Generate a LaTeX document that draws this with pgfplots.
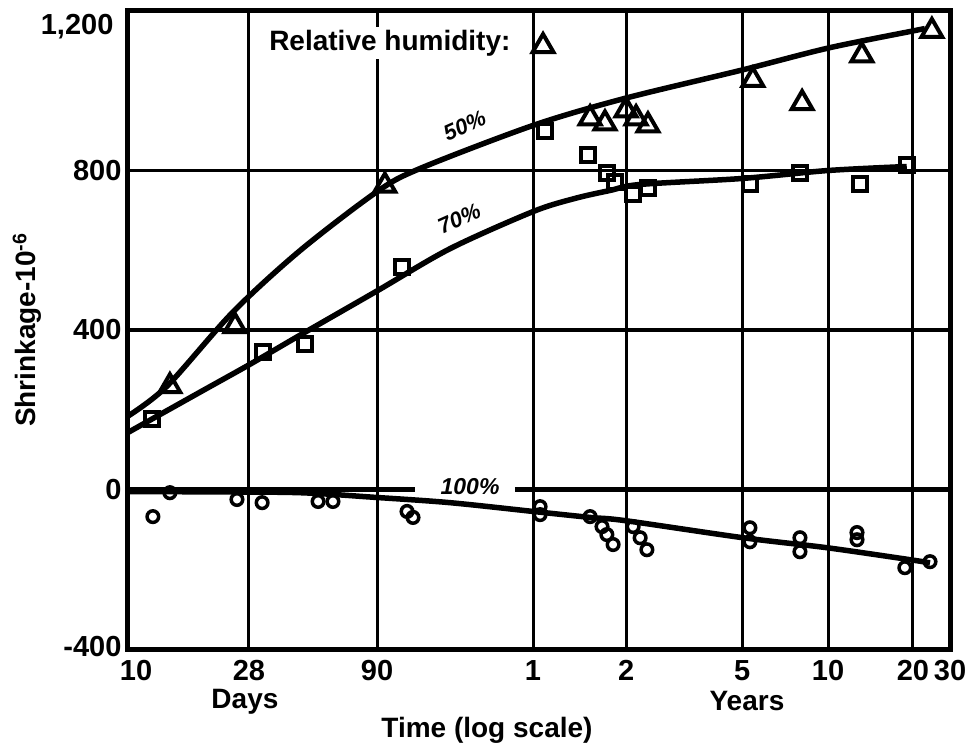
\documentclass[border=0pt]{standalone}
\usepackage{pgfplots}
\usepackage{pgfplotstable}
\pgfplotsset{compat=1.18}
\usepackage{fontspec}
\setmainfont{Liberation Sans}

% x = position on the drawn log-time scale (log10 of days as drawn), y = shrinkage x 10^-6
\pgfplotstableread{
x y
1.000 184
1.144 259
1.388 445
1.636 599
1.921 747
2.080 805
2.498 913
2.838 981
3.271 1052
3.589 1107
3.903 1150
3.947 1156
}\curveA
\pgfplotstableread{
x y
1.000 143
1.266 244
1.451 314
1.636 387
1.921 498
2.191 604
2.498 697
2.653 730
2.783 750
2.894 765
3.271 780
3.589 800
3.880 810
}\curveB
\pgfplotstableread{
x y
1.000 -5
1.300 -6
1.636 -8
1.921 -20
2.191 -33
2.498 -55
2.709 -70
2.838 -78
3.275 -121
3.585 -146
3.892 -176
3.966 -184
}\curveC
\pgfplotstableread{
x y
1.155 259
1.396 410
1.950 762
2.535 1112
2.709 931
2.764 918
2.842 951
2.879 931
2.923 913
3.311 1027
3.493 969
3.714 1089
3.973 1150
}\triA
\pgfplotstableread{
x y
1.089 176
1.499 345
1.655 365
2.013 559
2.542 898
2.701 838
2.771 793
2.801 772
2.868 742
2.923 755
3.300 767
3.485 793
3.707 767
3.881 815
}\sqB
\pgfplotstableread{
x y
1.092 -68
1.155 -8
1.403 -25
1.496 -33
1.703 -30
1.758 -30
2.032 -55
2.054 -70
2.524 -43
2.524 -63
2.709 -68
2.753 -93
2.771 -113
2.794 -138
2.868 -93
2.894 -121
2.919 -151
3.300 -96
3.300 -131
3.485 -121
3.485 -156
3.696 -108
3.696 -126
3.873 -196
3.966 -181
}\circC

\begin{document}
\begin{tikzpicture}
\begin{axis}[
  scale only axis, width=822pt, height=638pt,
  xmin=1, xmax=4.04, ymin=-400, ymax=1200,
  xtick={1,1.4475,1.921,2.498,2.842,3.271,3.589,3.903,4.04},
  xticklabels={\hphantom{0}10,28,90,1,2,5,10,20,30},
  ytick={-400,0,400,800},
  yticklabels={\raisebox{5pt}{-400},0,400,800},
  xmajorgrids,
  major grid style={black, line width=3pt},
  major tick length=0pt,
  axis line style={line width=5pt},
  tick label style={font=\bfseries\fontsize{29}{29}\selectfont},
  xticklabel style={yshift=-8pt},
  yticklabel style={xshift=-3pt},
  /pgf/number format/assume math mode=true,
  clip=false,
  ylabel={Shrinkage-10\textsuperscript{-6}},
  ylabel style={font=\bfseries\fontsize{28}{28}\selectfont, at={(rel axis cs:-0.1229,0.5)}, anchor=center},
  xlabel={Time (log scale)},
  xlabel style={font=\bfseries\fontsize{28}{28}\selectfont, at={(rel axis cs:0.4367,-0.128)}, anchor=center},
]
% horizontal grid lines
\addplot[black, line width=3.5pt] coordinates {(1,800) (4.04,800)};
\addplot[black, line width=3.5pt] coordinates {(1,400) (4.04,400)};
\addplot[black, line width=5pt] coordinates {(1,0) (2.061,0)};
\addplot[black, line width=5pt] coordinates {(2.431,0) (4.04,0)};

% fitted curves
\addplot[black, line width=5.5pt, smooth, tension=0.5] table {\curveA};
\addplot[black, line width=5.5pt, smooth, tension=0.5] table {\curveB};
\addplot[black, line width=5.5pt, smooth, tension=0.5] table {\curveC};

% measured points
\addplot[only marks, mark=triangle, mark size=12pt, mark options={black, line width=4pt, fill=white}] table {\triA};
\addplot[only marks, mark=square, mark size=7pt, mark options={black, line width=4pt, fill=white}] table {\sqB};
\addplot[only marks, mark=o, mark size=5.8pt, mark options={black, line width=3.5pt, fill=white}] table {\circC};

% labels
\node[font=\bfseries\fontsize{29}{29}\selectfont, anchor=east] at (rel axis cs:-0.0134,0.976) {1,200};
\node[font=\bfseries\fontsize{28}{28}\selectfont] at (rel axis cs:0.1423,-0.082) {Days};
\node[font=\bfseries\fontsize{28}{28}\selectfont] at (rel axis cs:0.753,-0.082) {Years};
\node[font=\bfseries\fontsize{28}{28}\selectfont, anchor=west, fill=white, inner xsep=1pt, inner ysep=3pt] at (axis cs:1.518,1120) {Relative humidity:};
\node[font=\bfseries\itshape\fontsize{22}{22}\selectfont, rotate=24] at (axis cs:2.245,912) {50\%};
\node[font=\bfseries\itshape\fontsize{22}{22}\selectfont, rotate=24] at (axis cs:2.225,680) {70\%};
\node[font=\bfseries\itshape\fontsize{23}{23}\selectfont] at (axis cs:2.265,8) {100\%};

\coordinate (bbsw) at (rel axis cs:-0.1557,-0.1583);
\coordinate (bbne) at (rel axis cs:1.0231,1.01724);
\end{axis}
\pgfresetboundingbox
\path[use as bounding box] (bbsw) rectangle (bbne);
\end{tikzpicture}
\end{document}
